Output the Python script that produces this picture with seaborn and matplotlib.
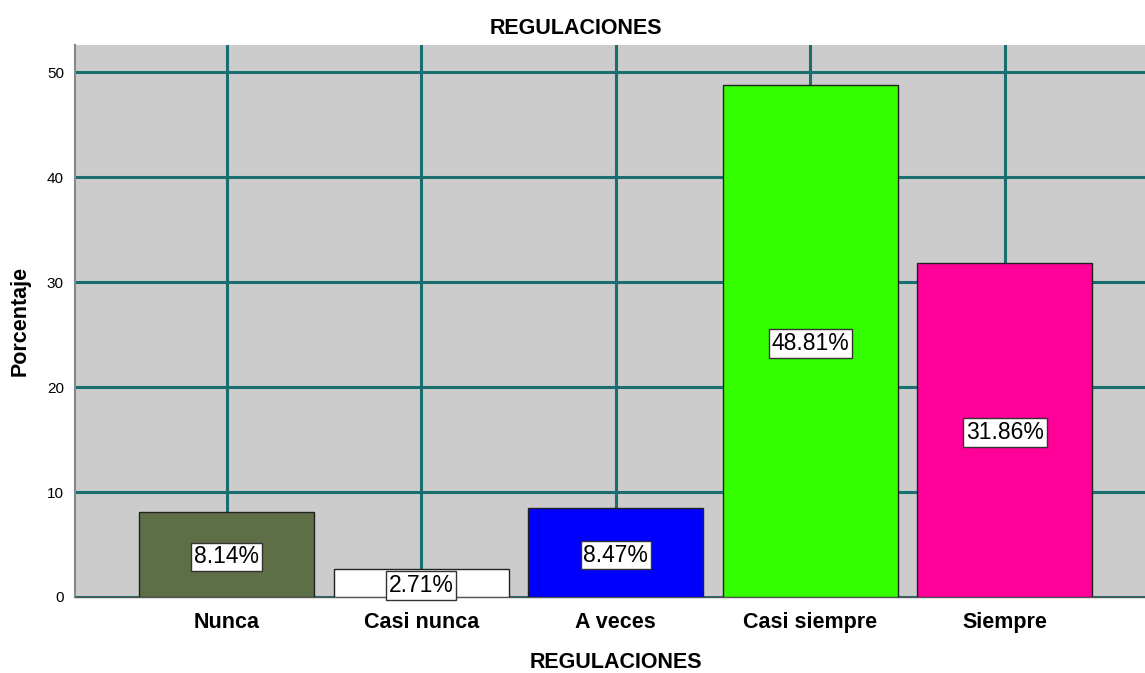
import matplotlib
matplotlib.use("Agg")
import matplotlib.pyplot as plt
import seaborn as sns
import pandas as pd

categories = ["Nunca", "Casi nunca", "A veces", "Casi siempre", "Siempre"]
values = [8.14, 2.71, 8.47, 48.81, 31.86]
colors = ["#5e6f48", "#ffffff", "#0000ff", "#33ff00", "#ff0099"]
yticks = [0, 10, 20, 30, 40, 50]

sns.set_theme(style="white")
plt.rcParams['font.family'] = ['Liberation Sans', 'DejaVu Sans']
plt.rcParams['text.color'] = 'black'
plt.rcParams['xtick.color'] = 'black'
plt.rcParams['ytick.color'] = 'black'
plt.rcParams['axes.labelcolor'] = 'black'

df = pd.DataFrame({"cat": categories, "val": values})

fig = plt.figure(figsize=(11.45, 6.73), dpi=100)
ax = fig.add_axes([75/1145, 1-597/673, 1-75/1145, (597-45)/673])
ax.set_facecolor("#cccccc")

sns.barplot(data=df, x="cat", y="val", hue="cat", palette=colors, dodge=False, saturation=1,
            width=0.9, edgecolor="#222222", linewidth=1.0, legend=False, ax=ax, zorder=3)

ax.set_xlim(-0.78, 4.72)
ax.set_ylim(0, 52.6)
ax.set_yticks(yticks)
ax.grid(True, color="#1b6e70", linewidth=2.2, zorder=0)
ax.set_axisbelow(True)

for i, v in enumerate(values):
    ax.text(i, v/2, f"{v:.2f}%", ha="center", va="center_baseline", fontsize=16.5, color="black", zorder=5,
            bbox=dict(boxstyle="square,pad=0.12", facecolor="white", edgecolor="#333333", linewidth=1))

ax.tick_params(axis="both", length=0)
ax.tick_params(axis="x", labelsize=15.5, pad=11)
ax.tick_params(axis="y", labelsize=11, pad=8)
for lbl in ax.get_xticklabels():
    lbl.set_fontweight("bold")

for s in ["top", "right"]:
    ax.spines[s].set_visible(False)
ax.spines["left"].set_color("#888888")
ax.spines["left"].set_linewidth(1.5)
ax.spines["bottom"].set_color("#555555")
ax.spines["bottom"].set_linewidth(1)

ax.set_xlabel("")
ax.set_ylabel("")
fig.text(616/1145, 1-662/673, "REGULACIONES", ha="center", va="center", fontsize=15.5, fontweight="bold")
fig.text(20/1145, 1-321/673, "Porcentaje", ha="center", va="center", rotation=90, fontsize=15.5, fontweight="bold")
fig.text(576/1145, 1-28/673, "REGULACIONES", ha="center", va="center", fontsize=15.5, fontweight="bold")

fig.savefig("out.png", dpi=100)
